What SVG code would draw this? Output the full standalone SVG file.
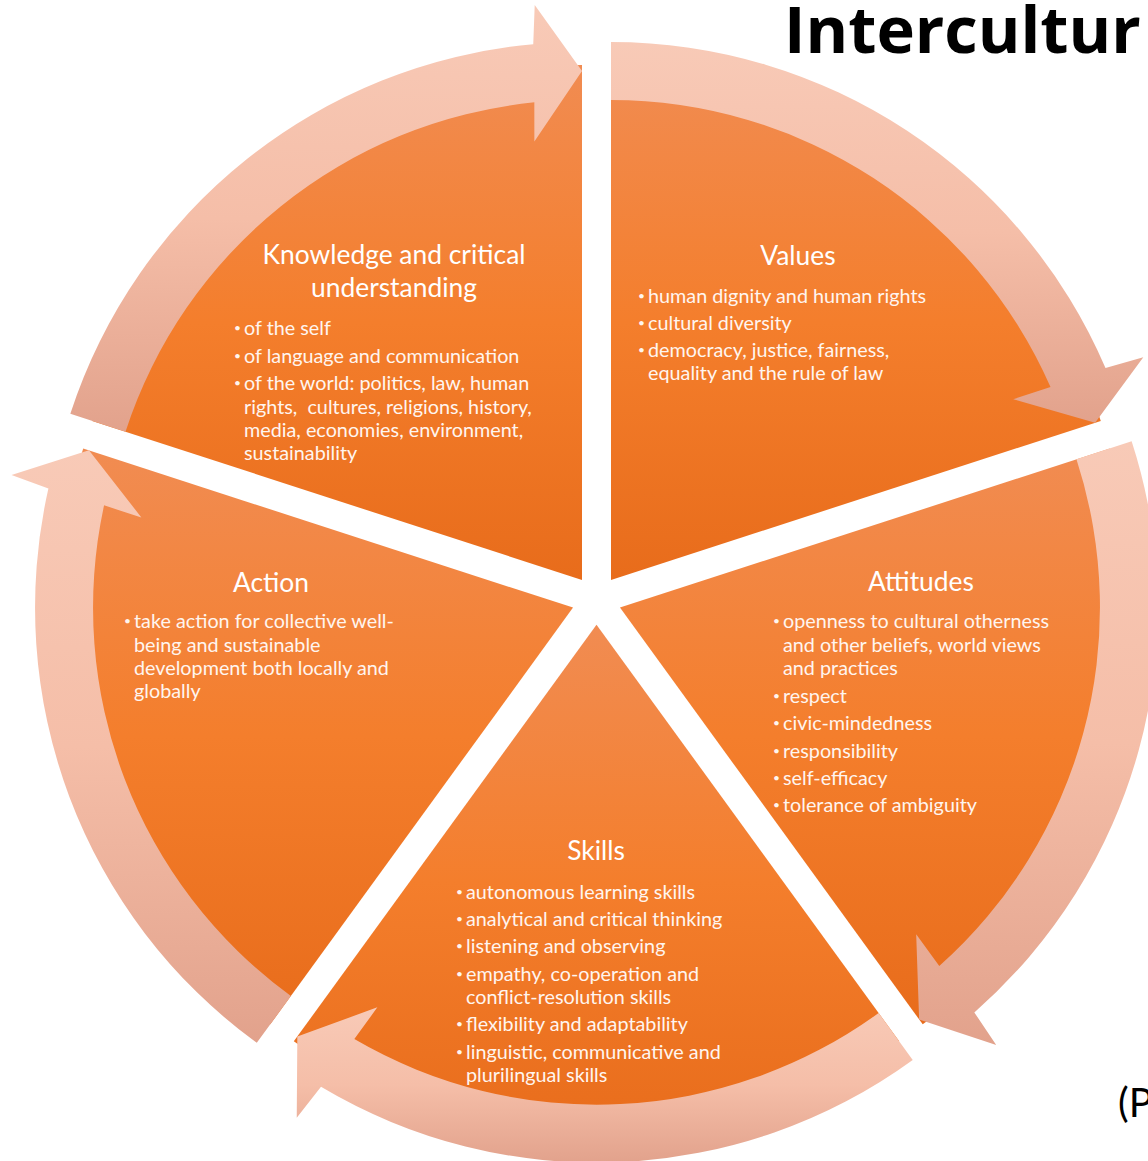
<svg xmlns="http://www.w3.org/2000/svg" width="1148" height="1161" viewBox="0 0 1148 1161">
<defs>
<linearGradient id="seg" x1="0" y1="0" x2="0" y2="1">
<stop offset="0" stop-color="#f18c52"/>
<stop offset="0.5" stop-color="#f47e2c"/>
<stop offset="1" stop-color="#e86c1b"/>
</linearGradient>
<linearGradient id="arr" x1="0" y1="0" x2="0" y2="1">
<stop offset="0" stop-color="#f8cab7"/>
<stop offset="0.5" stop-color="#f5bea8"/>
<stop offset="1" stop-color="#e2a28c"/>
</linearGradient>
<style>
.seg{fill:url(#seg);}
.arr{fill:url(#arr);}
.h{font-family:Lato,"Liberation Sans",sans-serif;font-size:26.4px;fill:#ffffff;text-anchor:middle;}
.b{font-family:Lato,"Liberation Sans",sans-serif;font-size:19.8px;fill:#fff5ef;}
.d{font-family:Lato,"Liberation Sans",sans-serif;font-size:12px;fill:#fff5ef;}
.t{font-family:"Open Sans","Liberation Sans",sans-serif;font-size:65px;font-weight:bold;fill:#000000;}
.p{font-family:Lato,"Liberation Sans",sans-serif;font-size:40px;fill:#000000;}
</style>
</defs>
<rect width="1148" height="1161" fill="#ffffff"/>
<text class="t" x="784" y="53">Intercultur</text>
<text class="p" x="1118" y="1117">(P</text>

<g id="knowledge">
<path class="seg" d="M582,580 L92.2,420.9 A515,515 0 0 1 582,65 Z"/>
<text class="h" x="394" y="264">Knowledge and critical</text>
<text class="h" x="394" y="297">understanding</text>
<text class="d" x="234" y="332">•</text>
<text class="b" x="244" y="335">of the self</text>
<text class="d" x="234" y="360">•</text>
<text class="b" x="244" y="363">of language and communication</text>
<text class="d" x="234" y="387">•</text>
<text class="b" x="244" y="390">of the world: politics, law, human</text>
<text class="b" x="244" y="413.5" style="white-space:pre">rights,  cultures, religions, history,</text>
<text class="b" x="244" y="437">media, economies, environment,</text>
<text class="b" x="244" y="460">sustainability</text>
</g>

<g id="values">
<path class="seg" d="M611,580 L611,65 A515,515 0 0 1 1100.8,420.9 Z"/>
<text class="h" x="798" y="265">Values</text>
<text class="d" x="638" y="300">•</text>
<text class="b" x="648" y="303">human dignity and human rights</text>
<text class="d" x="638" y="327">•</text>
<text class="b" x="648" y="330">cultural diversity</text>
<text class="d" x="638" y="354">•</text>
<text class="b" x="648" y="357">democracy, justice, fairness,</text>
<text class="b" x="648" y="380">equality and the rule of law</text>
</g>

<g id="attitudes">
<path class="seg" d="M619.96,607.62 L1109.8,448.5 A515,515 0 0 1 922.7,1024.3 Z"/>
<text class="h" x="921" y="591">Attitudes</text>
<text class="d" x="773" y="625">•</text>
<text class="b" x="783" y="628">openness to cultural otherness</text>
<text class="b" x="783" y="651.5">and other beliefs, world views</text>
<text class="b" x="783" y="675">and practices</text>
<text class="d" x="773" y="700">•</text>
<text class="b" x="783" y="703">respect</text>
<text class="d" x="773" y="727">•</text>
<text class="b" x="783" y="730">civic-mindedness</text>
<text class="d" x="773" y="754.5">•</text>
<text class="b" x="783" y="757.5">responsibility</text>
<text class="d" x="773" y="782">•</text>
<text class="b" x="783" y="785">self-efficacy</text>
<text class="d" x="773" y="809">•</text>
<text class="b" x="783" y="812">tolerance of ambiguity</text>
</g>

<g id="skills">
<path class="seg" d="M596.5,624.67 L899.2,1041.3 A515,515 0 0 1 293.8,1041.3 Z"/>
<text class="h" x="596" y="860">Skills</text>
<text class="d" x="456" y="896">•</text>
<text class="b" x="466" y="899">autonomous learning skills</text>
<text class="d" x="456" y="923">•</text>
<text class="b" x="466" y="926">analytical and critical thinking</text>
<text class="d" x="456" y="950">•</text>
<text class="b" x="466" y="953">listening and observing</text>
<text class="d" x="456" y="978">•</text>
<text class="b" x="466" y="981">empathy, co-operation and</text>
<text class="b" x="466" y="1004">conflict-resolution skills</text>
<text class="d" x="456" y="1028">•</text>
<text class="b" x="466" y="1031">flexibility and adaptability</text>
<text class="d" x="456" y="1056">•</text>
<text class="b" x="466" y="1059">linguistic, communicative and</text>
<text class="b" x="466" y="1082">plurilingual skills</text>
</g>

<g id="action">
<path class="seg" d="M573.04,607.62 L270.3,1024.3 A515,515 0 0 1 83.2,448.5 Z"/>
<text class="h" x="271" y="592">Action</text>
<text class="d" x="124" y="625">•</text>
<text class="b" x="134" y="628">take action for collective well-</text>
<text class="b" x="134" y="652">being and sustainable</text>
<text class="b" x="134" y="675">development both locally and</text>
<text class="b" x="134" y="698">globally</text>
</g>

<g id="connectors">
<path class="arr" d="M70.33,413.75 A538,538 0 0 1 533.24,44.22 L534.72,4.94 L582,71 L534.37,141.58 L534.33,102.37 A480,480 0 0 0 125.49,431.67 Z"/>
<path class="arr" d="M611,42 A538,538 0 0 1 1105.5,368.06 L1143.31,357.33 L1095.09,422.71 L1013.24,399.23 L1050.52,387.06 A480,480 0 0 0 611,100 Z"/>
<path class="arr" d="M1131.63,441.37 A538,538 0 0 1 974.34,1012.42 L996.22,1045.06 L919.14,1019.41 L916.19,934.31 L939.27,966.01 A480,480 0 0 0 1076.47,459.29 Z"/>
<path class="arr" d="M912.73,1059.92 A538,538 0 0 1 321.0,1086.77 L296.74,1117.69 L297.32,1036.46 L377.34,1007.36 L354.33,1039.1 A480,480 0 0 0 878.64,1013.0 Z"/>
<path class="arr" d="M256.81,1042.87 A538,538 0 0 1 48.41,488.43 L11.52,474.88 L88.95,450.33 L141.36,517.44 L104.06,505.37 A480,480 0 0 0 290.9,995.95 Z"/>
</g>
</svg>
